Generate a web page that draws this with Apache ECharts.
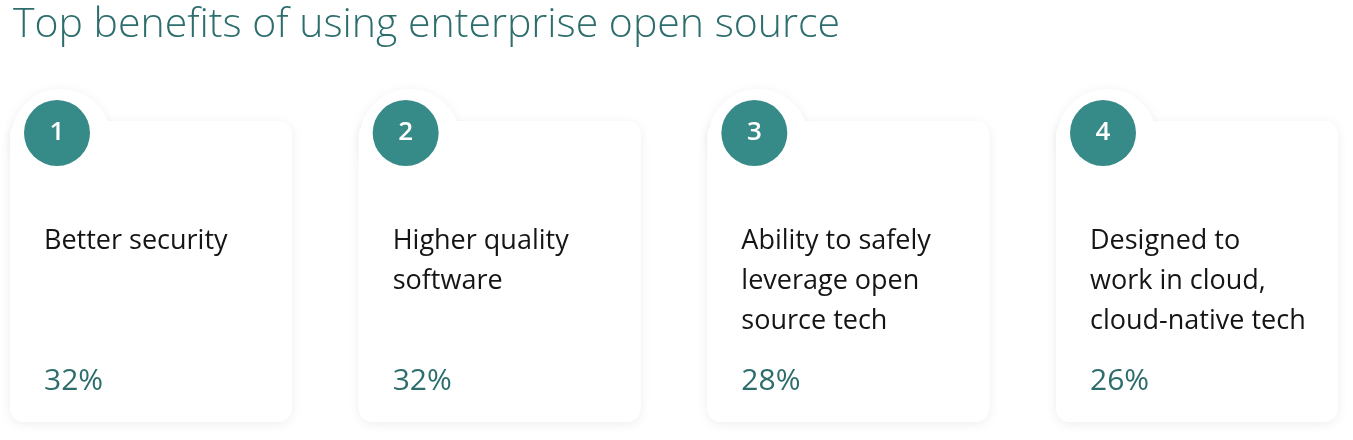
<!DOCTYPE html>
<html><head><meta charset="utf-8">
<script src="https://cdn.jsdelivr.net/npm/echarts@6/dist/echarts.min.js"></script>
<style>html,body{margin:0;background:#fff}#c{width:1353px;height:440px}</style>
</head><body><div id="c"></div>
<script>
const title = "Top benefits of using enterprise open source";
const ranks = ["1","2","3","4"];
const labels = ["Better security","Higher quality\nsoftware","Ability to safely\nleverage open\nsource tech","Designed to\nwork in cloud,\ncloud-native tech"];
const values = [32,32,28,26];
const teal = "#368a88", tealText = "#2d6e6d";
const FONT = "'Open Sans', 'Noto Sans', sans-serif";
const chart = echarts.init(document.getElementById('c'));
chart.setOption({
  animation:false,
  title:{text:title,left:8,top:0,textStyle:{fontFamily:FONT,fontSize:41,fontWeight:300,color:tealText}},
  grid:{left:151,right:156,top:120,height:300},
  xAxis:{type:'value',min:0,max:3,show:false},
  yAxis:{type:'value',show:false,min:0,max:100},
  series:[{
    type:'custom',
    data:values.map((v,i)=>[i,v]),
    renderItem:(params,api)=>{
      const i=api.value(0), v=api.value(1);
      const x0=api.coord([i,0])[0]-141;
      const cardY=121, cardW=282, cardH=301;
      const cx=x0+47, cy=133, hr=50;
      const sh={shadowBlur:12,shadowColor:'rgba(0,0,0,0.07)',shadowOffsetY:2};
      return {type:'group',children:[
        {type:'rect',shape:{x:x0,y:cardY,width:cardW,height:cardH,r:14},style:Object.assign({fill:'#fff'},sh)},
        {type:'circle',shape:{cx:cx+4,cy:cy+6,r:hr},style:Object.assign({fill:'#fff'},sh)},
        {type:'rect',shape:{x:x0,y:cardY,width:cardW,height:cardH,r:14},style:{fill:'#fff'}},
        {type:'circle',shape:{cx:cx+4,cy:cy+6,r:hr},style:{fill:'#fff'}},
        {type:'circle',shape:{cx:cx,cy:cy,r:33},style:{fill:teal}},
        {type:'text',style:{x:cx,y:cy,text:ranks[i],fill:'#fff',font:'600 26px '+FONT,align:'center',verticalAlign:'middle'}},
        {type:'text',style:{x:x0+34,y:221,text:labels[i],fill:'#151515',font:'400 27px '+FONT,lineHeight:40,verticalAlign:'top'}},
        {type:'text',style:{x:x0+34,y:381,text:v+'%',fill:tealText,font:'400 30px '+FONT,verticalAlign:'middle'}}
      ]};
    }
  }]
});
</script></body></html>
